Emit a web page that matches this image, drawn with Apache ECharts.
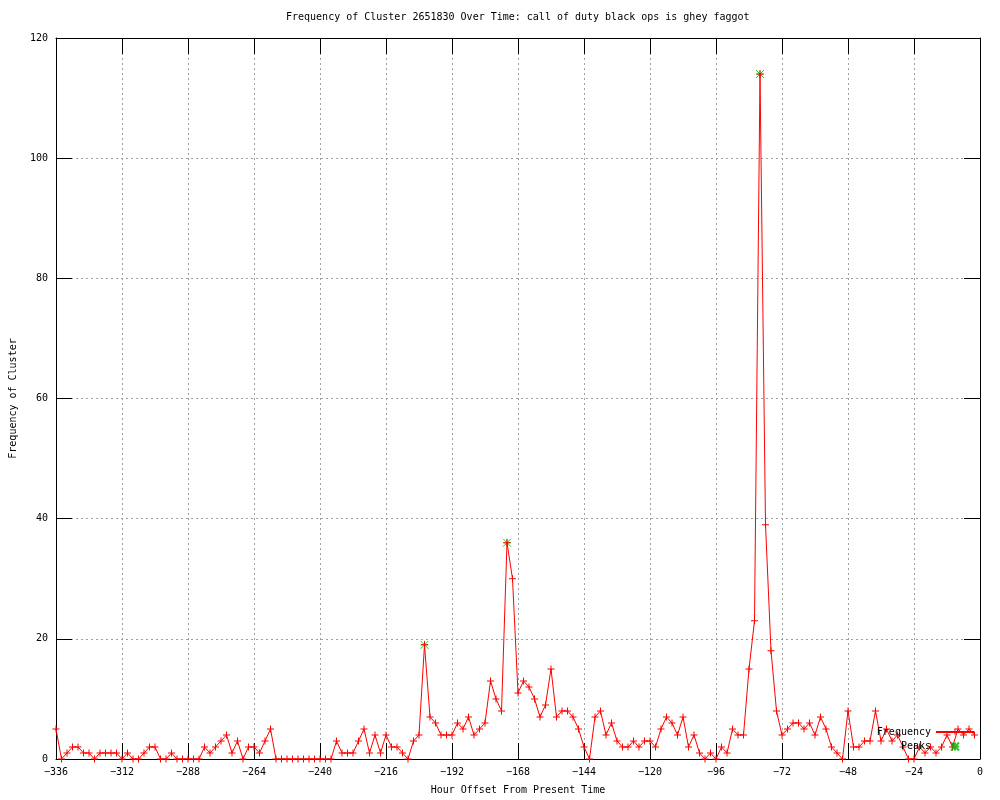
<!DOCTYPE html>
<html>
<head>
<meta charset="utf-8">
<title>Frequency of Cluster 2651830</title>
<script src="https://cdn.jsdelivr.net/npm/echarts@6/dist/echarts.min.js"></script>
<style>
  html, body { margin: 0; padding: 0; background: #fff; }
  #chart { width: 1000px; height: 800px; }
</style>
</head>
<body>
<div id="chart"></div>
<script>
// hour offsets, one reading every 2 hours
const hours = [
  -336, -334, -332, -330, -328, -326, -324, -322, -320, -318, -316, -314,
  -312, -310, -308, -306, -304, -302, -300, -298, -296, -294, -292, -290,
  -288, -286, -284, -282, -280, -278, -276, -274, -272, -270, -268, -266,
  -264, -262, -260, -258, -256, -254, -252, -250, -248, -246, -244, -242,
  -240, -238, -236, -234, -232, -230, -228, -226, -224, -222, -220, -218,
  -216, -214, -212, -210, -208, -206, -204, -202, -200, -198, -196, -194,
  -192, -190, -188, -186, -184, -182, -180, -178, -176, -174, -172, -170,
  -168, -166, -164, -162, -160, -158, -156, -154, -152, -150, -148, -146,
  -144, -142, -140, -138, -136, -134, -132, -130, -128, -126, -124, -122,
  -120, -118, -116, -114, -112, -110, -108, -106, -104, -102, -100, -98,
  -96, -94, -92, -90, -88, -86, -84, -82, -80, -78, -76, -74,
  -72, -70, -68, -66, -64, -62, -60, -58, -56, -54, -52, -50,
  -48, -46, -44, -42, -40, -38, -36, -34, -32, -30, -28, -26,
  -24, -22, -20, -18, -16, -14, -12, -10, -8, -6, -4, -2
];
const frequency = [
  5, 0, 1, 2, 2, 1, 1, 0, 1, 1, 1, 1,
  0, 1, 0, 0, 1, 2, 2, 0, 0, 1, 0, 0,
  0, 0, 0, 2, 1, 2, 3, 4, 1, 3, 0, 2,
  2, 1, 3, 5, 0, 0, 0, 0, 0, 0, 0, 0,
  0, 0, 0, 3, 1, 1, 1, 3, 5, 1, 4, 1,
  4, 2, 2, 1, 0, 3, 4, 19, 7, 6, 4, 4,
  4, 6, 5, 7, 4, 5, 6, 13, 10, 8, 36, 30,
  11, 13, 12, 10, 7, 9, 15, 7, 8, 8, 7, 5,
  2, 0, 7, 8, 4, 6, 3, 2, 2, 3, 2, 3,
  3, 2, 5, 7, 6, 4, 7, 2, 4, 1, 0, 1,
  0, 2, 1, 5, 4, 4, 15, 23, 114, 39, 18, 8,
  4, 5, 6, 6, 5, 6, 4, 7, 5, 2, 1, 0,
  8, 2, 2, 3, 3, 8, 3, 5, 3, 4, 2, 0,
  0, 2, 1, 2, 1, 2, 4, 2, 5, 4, 5, 4
];
const peakHours = [-202, -172, -80];
const peakValues = [19, 36, 114];

const chart = echarts.init(document.getElementById('chart'));

const FONT = 'DejaVu Sans Mono';
const GRID_COLOR = '#a0a0a0';
const plusPath = 'path://M3,0H4V3H7V4H4V7H3V4H0V3H3Z';
const starPath = 'path://M0,0L8,8M8,0L0,8M4,0L4,8M0,4L8,4';

function minusSign(v) {
  return String(v).replace('-', '\u2212');
}

const tick = { show: true, inside: true, length: 16, lineStyle: { color: '#000' } };
const frame = { show: true, onZero: false, lineStyle: { color: '#000', width: 1 } };

chart.setOption({
  animation: false,
  backgroundColor: '#fff',
  title: {
    text: 'Frequency of Cluster 2651830 Over Time: call of duty black ops is ghey faggot',
    left: 286,
    top: 12,
    padding: 0,
    textStyle: { fontFamily: FONT, fontSize: 10, fontWeight: 'normal', color: '#000' }
  },
  legend: {
    data: ['Frequency', 'Peaks'],
    orient: 'vertical',
    align: 'right',
    right: 25,
    top: 726,
    padding: 0,
    itemWidth: 38,
    itemHeight: 8,
    itemGap: 2,
    textStyle: { fontFamily: FONT, fontSize: 10, color: '#000', lineHeight: 12 }
  },
  grid: { left: 55, right: 20, top: 38, bottom: 40, containLabel: false },
  xAxis: [{
    type: 'value',
    min: -336,
    max: 0,
    interval: 24,
    name: 'Hour Offset From Present Time',
    nameLocation: 'middle',
    nameGap: 26,
    nameTextStyle: { fontFamily: FONT, fontSize: 10, color: '#000' },
    axisLine: frame,
    axisTick: tick,
    axisLabel: { fontFamily: FONT, fontSize: 10, color: '#000', margin: 8, formatter: minusSign },
    splitLine: { show: true, lineStyle: { color: GRID_COLOR, type: [2, 3], width: 1 } }
  }, {
    type: 'value',
    position: 'top',
    min: -336,
    max: 0,
    interval: 24,
    axisLine: frame,
    axisTick: tick,
    axisLabel: { show: false },
    splitLine: { show: false }
  }],
  yAxis: [{
    type: 'value',
    min: 0,
    max: 120,
    interval: 20,
    name: 'Frequency of Cluster',
    nameLocation: 'middle',
    nameGap: 38,
    nameTextStyle: { fontFamily: FONT, fontSize: 10, color: '#000' },
    axisLine: frame,
    axisTick: tick,
    axisLabel: { fontFamily: FONT, fontSize: 10, color: '#000', margin: 8 },
    splitLine: { show: true, lineStyle: { color: GRID_COLOR, type: [2, 3], width: 1 } }
  }, {
    type: 'value',
    position: 'right',
    min: 0,
    max: 120,
    interval: 20,
    axisLine: frame,
    axisTick: tick,
    axisLabel: { show: false },
    splitLine: { show: false }
  }],
  series: [
    {
      name: 'Peaks',
      type: 'scatter',
      z: 1,
      symbol: starPath,
      symbolSize: 8,
      itemStyle: { color: 'none', borderColor: '#00b000', borderWidth: 1 },
      data: peakHours.map((h, i) => [h, peakValues[i]])
    },
    {
      name: 'Frequency',
      type: 'line',
      z: 2,
      symbol: plusPath,
      symbolSize: 7,
      showAllSymbol: true,
      lineStyle: { color: '#ff0000', width: 1 },
      itemStyle: { color: '#ff0000' },
      data: hours.map((h, i) => [h, frequency[i]])
    }
  ]
});
</script>
</body>
</html>
